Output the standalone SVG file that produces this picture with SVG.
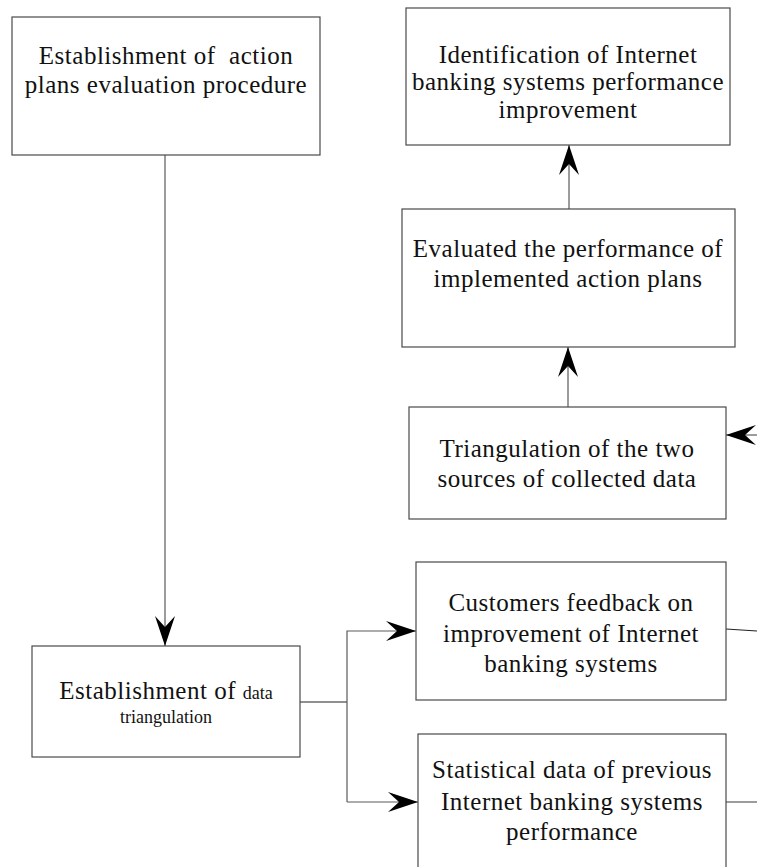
<svg xmlns="http://www.w3.org/2000/svg" width="757" height="867" viewBox="0 0 757 867">
  <style>
    .box { fill: #ffffff; stroke: #4a4a4a; stroke-width: 1.2; }
    .lbl { font-family: "Liberation Serif", "Times New Roman", serif; font-size: 25px; fill: #111; text-anchor: middle; letter-spacing: 0.5px; }
    .sm { font-size: 18px; letter-spacing: 0; }
    .conn { fill: none; stroke: #5a5a5a; stroke-width: 1.2; }
  </style>
  <defs>
    <marker id="arrow" markerUnits="userSpaceOnUse" viewBox="-32 -12 34 24" refX="0" refY="0" markerWidth="34" markerHeight="24" orient="auto" overflow="visible">
      <path d="M0,0 L-30,-10 L-19,0 L-30,10 Z" fill="#000"/>
    </marker>
  </defs>

  <rect width="757" height="867" fill="#ffffff"/>

  <g id="connectors">
    <line class="conn" x1="165" y1="155" x2="165" y2="646" marker-end="url(#arrow)"/>
    <polyline class="conn" points="300,702 347,702" style="stroke:#222"/>
    <polyline class="conn" points="347,802 347,631 416,631" marker-end="url(#arrow)"/>
    <polyline class="conn" points="347,802 418,802" marker-end="url(#arrow)"/>
    <line class="conn" x1="568" y1="407" x2="568" y2="347" marker-end="url(#arrow)"/>
    <line class="conn" x1="569" y1="209" x2="569" y2="145" marker-end="url(#arrow)"/>
    <line class="conn" x1="757" y1="435" x2="726" y2="435" marker-end="url(#arrow)"/>
    <line class="conn" x1="726" y1="629" x2="757" y2="631" style="stroke:#222"/>
    <line class="conn" x1="726" y1="802" x2="757" y2="802"/>
  </g>

  <g id="action-plans-procedure">
    <rect class="box" x="12" y="17" width="308" height="138"/>
    <text class="lbl" x="166" y="64" xml:space="preserve">Establishment of  action</text>
    <text class="lbl" x="166" y="93">plans evaluation procedure</text>
  </g>

  <g id="performance-improvement">
    <rect class="box" x="406" y="8" width="324" height="137"/>
    <text class="lbl" x="568" y="63">Identification of Internet</text>
    <text class="lbl" x="568" y="90">banking systems performance</text>
    <text class="lbl" x="568" y="118">improvement</text>
  </g>

  <g id="evaluated-performance">
    <rect class="box" x="402" y="209" width="333" height="138"/>
    <text class="lbl" x="568" y="257">Evaluated the performance of</text>
    <text class="lbl" x="568" y="287">implemented action plans</text>
  </g>

  <g id="triangulation-sources">
    <rect class="box" x="409" y="407" width="317" height="112"/>
    <text class="lbl" x="567" y="457">Triangulation of the two</text>
    <text class="lbl" x="567" y="487">sources of collected data</text>
  </g>

  <g id="data-triangulation">
    <rect class="box" x="32" y="646" width="268" height="111"/>
    <text class="lbl" x="166" y="699">Establishment of <tspan class="sm">data</tspan></text>
    <text class="lbl sm" x="166" y="723">triangulation</text>
  </g>

  <g id="customers-feedback">
    <rect class="box" x="416" y="562" width="310" height="138"/>
    <text class="lbl" x="571" y="611">Customers feedback on</text>
    <text class="lbl" x="571" y="642">improvement of Internet</text>
    <text class="lbl" x="571" y="672">banking systems</text>
  </g>

  <g id="statistical-data">
    <rect class="box" x="418" y="734" width="308" height="150"/>
    <text class="lbl" x="572" y="778">Statistical data of previous</text>
    <text class="lbl" x="572" y="810">Internet banking systems</text>
    <text class="lbl" x="572" y="840">performance</text>
  </g>
</svg>
